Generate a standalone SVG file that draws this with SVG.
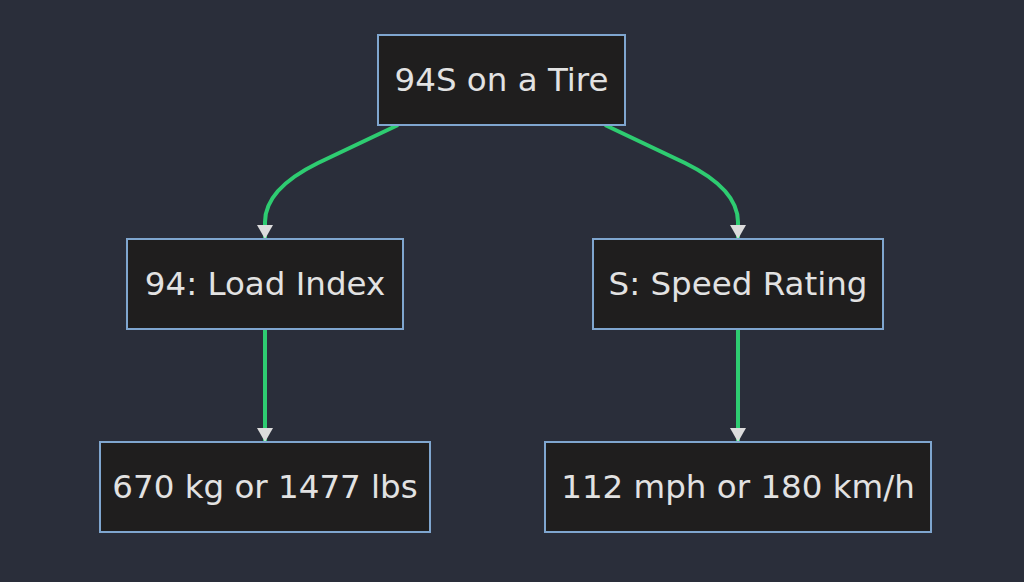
<svg xmlns="http://www.w3.org/2000/svg" width="1024" height="582" viewBox="0 0 1024 582">
  <defs>
    <style>
      .node rect { fill: #1f1e1e; stroke: #7fa6cf; stroke-width: 2; }
      .node text { fill: #e2e2e2; font-family: "DejaVu Sans", "Liberation Sans", sans-serif; font-size: 32.5px; text-anchor: middle; }
      .edge { fill: none; stroke: #2ecc71; stroke-width: 4; marker-end: url(#arrow); }
    </style>
    <marker id="arrow" viewBox="0 0 14 16" refX="14" refY="8" markerWidth="14" markerHeight="16" markerUnits="userSpaceOnUse" orient="auto">
      <path d="M0,0 L14,8 L0,16 Z" fill="#dcdcdc"/>
    </marker>
  </defs>
  <rect x="0" y="0" width="1024" height="582" fill="#2a2e3a"/>
  <g id="connectors">
    <path class="edge" d="M398,125 L318,163 Q265,189 265,222 L265,239"/>
    <path class="edge" d="M605,125 L685,163 Q738,189 738,222 L738,239"/>
    <path class="edge" d="M265,329 L265,442"/>
    <path class="edge" d="M738,329 L738,442"/>
  </g>
  <g id="tire" class="node">
    <rect x="378" y="35" width="247" height="90"/>
    <text x="501.5" y="91">94S on a Tire</text>
  </g>
  <g id="load" class="node">
    <rect x="127" y="239" width="276" height="90"/>
    <text x="265" y="295">94: Load Index</text>
  </g>
  <g id="speed" class="node">
    <rect x="593" y="239" width="290" height="90"/>
    <text x="738" y="295">S: Speed Rating</text>
  </g>
  <g id="weight" class="node">
    <rect x="100" y="442" width="330" height="90"/>
    <text x="265" y="498">670 kg or 1477 lbs</text>
  </g>
  <g id="speedval" class="node">
    <rect x="545" y="442" width="386" height="90"/>
    <text x="738" y="498">112 mph or 180 km/h</text>
  </g>
</svg>
